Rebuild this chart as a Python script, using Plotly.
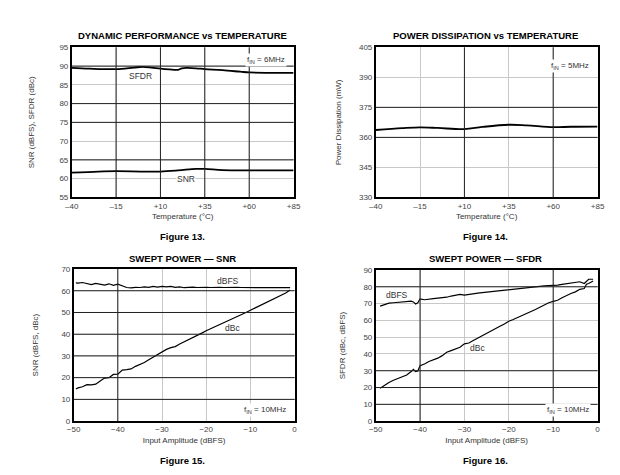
import plotly.graph_objects as go

# ---------- data ----------
temp_sfdr = [-40, -30, -15, -5, 0, 5, 10, 15, 20, 22, 25, 30, 35, 45, 55, 60, 70, 85]
sfdr_temp = [89.5, 89.3, 89.2, 89.6, 89.8, 89.6, 89.3, 89.1, 89.0, 89.4, 89.5, 89.4, 89.2, 88.9, 88.5, 88.3, 88.2, 88.2]
temp_snr = [-40, -25, -15, 0, 10, 20, 30, 35, 45, 60, 85]
snr_temp = [61.6, 61.9, 62.0, 61.9, 61.9, 62.2, 62.6, 62.6, 62.3, 62.2, 62.2]

temp_pwr = [-40, -25, -15, -5, 10, 20, 35, 45, 60, 70, 85]
pwr_temp = [363.7, 364.6, 365.0, 364.7, 364.1, 365.2, 366.3, 366.0, 365.1, 365.3, 365.4]

amp_snr = [-49.5, -49, -48, -47, -46, -45, -44, -43, -42, -41, -40, -39, -38, -37, -36, -35, -34, -33, -32,
           -31, -30, -29, -28, -27, -26, -25, -24, -23, -22, -21, -20, -19, -18, -17, -16, -15, -14, -13,
           -12, -11, -10, -9, -8, -7, -6, -5, -4, -3, -2, -1]
snr_dbfs = [63.6, 63.5, 63.8, 63.2, 62.8, 63.4, 63.0, 62.6, 63.2, 62.5, 63.0, 62.4, 61.5, 61.3, 61.6, 61.5,
            61.8, 61.6, 62.0, 61.7, 62.0, 61.8, 62.0, 61.6, 61.8, 61.4, 61.6, 61.7, 61.5, 61.7, 61.6, 61.5,
            61.7, 61.6, 61.5, 61.6, 61.5, 61.6, 61.5, 61.5, 61.6, 61.5, 61.5, 61.5, 61.5, 61.4, 61.5, 61.5, 61.4, 61.4]
snr_dbc = [14.8, 15.3, 15.8, 16.8, 16.7, 17.0, 18.5, 19.8, 20.0, 21.5, 21.6, 23.5, 23.7, 24.0, 25.2, 26.0,
           27.0, 28.2, 29.5, 30.5, 32.0, 33.0, 33.8, 34.3, 35.5, 36.5, 37.2, 38.5, 39.3, 40.5, 41.6, 42.5,
           43.4, 44.5, 45.4, 46.3, 47.0, 48.0, 49.1, 50.0, 51.0, 52.0, 53.0, 54.0, 55.0, 56.0, 57.0, 58.0, 59.0, 60.4]

amp_sfdr = [-49, -48, -47, -46, -45, -44, -43, -42, -41.5, -41, -40.5, -40, -39, -38, -37, -36, -35, -34, -33,
            -32, -31, -30, -29, -28, -27, -26, -25, -24, -23, -22, -21, -20, -19, -18, -17, -16, -15, -14, -13,
            -12, -11, -10, -9, -8, -7, -6, -5, -4, -3, -2.5, -2, -1]
sfdr_dbfs = [68.5, 69.5, 70.3, 70.5, 70.8, 70.8, 71.3, 71.5, 71.0, 69.8, 70.5, 72.8, 72.3, 72.8, 73.0, 73.3,
             73.5, 73.8, 74.5, 74.8, 75.5, 75.0, 75.5, 76.0, 76.2, 76.5, 76.8, 77.0, 77.5, 77.8, 78.2, 78.3,
             78.6, 79.0, 79.0, 79.5, 79.8, 80.0, 80.2, 80.5, 80.7, 80.8, 81.0, 81.5, 81.8, 82.0, 82.5, 83.0,
             82.0, 83.5, 84.5, 84.5]
sfdr_dbc = [19.5, 21.5, 23.0, 24.3, 25.5, 26.5, 27.5, 29.5, 30.8, 29.5, 29.8, 33.0, 34.0, 35.5, 36.5, 37.5,
            39.0, 41.0, 42.0, 42.8, 44.0, 46.0, 46.5, 48.0, 49.5, 51.0, 52.5, 54.0, 55.0, 56.5, 57.8, 59.5,
            60.5, 61.8, 63.0, 64.5, 65.3, 66.5, 68.0, 69.0, 70.5, 71.3, 72.0, 73.5, 75.0, 76.0, 77.0, 78.5,
            79.0, 81.5, 82.0, 83.5]

temp_ticks = [-40, -15, 10, 35, 60, 85]
temp_ticktext = ["\u201340", "\u201315", "+10", "+35", "+60", "+85"]
amp_ticks = [-50, -40, -30, -20, -10, 0]
amp_ticktext = ["\u221250", "\u221240", "\u221230", "\u221220", "\u221210", "0"]

# dark vs light gridlines (as in the reference)
dark_grid = {
    "13": {"x": [-15, 10, 35, 60], "y": [90, 80, 75, 65]},
    "14": {"x": [10, 60], "y": [375, 360]},
    "15": {"x": [-40], "y": [60, 50, 40, 30, 20, 10]},
    "16": {"x": [-40, -10], "y": [80, 30, 20, 10]},
}

FONT = "Liberation Sans, Arial, sans-serif"
fig = go.Figure()

line_thick = dict(color="black", width=1.8)
line_thin = dict(color="black", width=1.2)

fig.add_trace(go.Scatter(x=temp_sfdr, y=sfdr_temp, mode="lines", line=dict(shape="spline", **line_thick), xaxis="x", yaxis="y"))
fig.add_trace(go.Scatter(x=temp_snr, y=snr_temp, mode="lines", line=dict(shape="spline", **line_thick), xaxis="x", yaxis="y"))
fig.add_trace(go.Scatter(x=temp_pwr, y=pwr_temp, mode="lines", line=dict(shape="spline", **line_thick), xaxis="x2", yaxis="y2"))
fig.add_trace(go.Scatter(x=amp_snr, y=snr_dbfs, mode="lines", line=line_thin, xaxis="x3", yaxis="y3"))
fig.add_trace(go.Scatter(x=amp_snr, y=snr_dbc, mode="lines", line=line_thin, xaxis="x3", yaxis="y3"))
fig.add_trace(go.Scatter(x=amp_sfdr, y=sfdr_dbfs, mode="lines", line=line_thin, xaxis="x4", yaxis="y4"))
fig.add_trace(go.Scatter(x=amp_sfdr, y=sfdr_dbc, mode="lines", line=line_thin, xaxis="x4", yaxis="y4"))

W, H = 620, 475
def px_x(a, b):
    return [a / W, b / W]
def px_y(top, bot):
    return [1 - bot / H, 1 - top / H]

tickfont = dict(family=FONT, size=8, color="#444")
titlefont = dict(family=FONT, size=8, color="#333")

def xax(domain, anchor, rng, tickvals, ticktext, title):
    return dict(domain=domain, anchor=anchor, range=rng, tickmode="array", tickvals=tickvals,
                ticktext=ticktext, showgrid=True, gridcolor="#c8c8c8", gridwidth=1,
                showline=True, linecolor="black", linewidth=1.5, mirror=True, ticks="",
                zeroline=False, tickfont=tickfont, title=dict(text=title, font=titlefont, standoff=4))

def yax(domain, anchor, rng, dtick, title, standoff):
    return dict(domain=domain, anchor=anchor, range=rng, dtick=dtick, tick0=rng[0],
                showgrid=True, gridcolor="#c8c8c8", gridwidth=1,
                showline=True, linecolor="black", linewidth=1.5, mirror=True, ticks="",
                zeroline=False, tickfont=tickfont, title=dict(text=title, font=titlefont, standoff=standoff))

fig.update_layout(
    width=W, height=H, margin=dict(l=0, r=0, t=0, b=0),
    paper_bgcolor="white", plot_bgcolor="white", showlegend=False,
    font=dict(family=FONT),
    xaxis=xax(px_x(58, 285), "y", [-40, 85], temp_ticks, temp_ticktext, "Temperature (\u00b0C)"),
    yaxis=yax(px_y(36, 189), "x", [55, 95], 5, "SNR (dBFS), SFDR (dBc)", 24),
    xaxis2=xax(px_x(369, 596), "y2", [-40, 85], temp_ticks, temp_ticktext, "Temperature (\u00b0C)"),
    yaxis2=yax(px_y(36, 189), "x2", [330, 405], 15, "Power Dissipation (mW)", 16),
    xaxis3=xax(px_x(60, 286), "y3", [-50, 0], amp_ticks, amp_ticktext, "Input Amplitude (dBFS)"),
    yaxis3=yax(px_y(262, 417), "x3", [0, 70], 10, "SNR (dBFS, dBc)", 22),
    xaxis4=xax(px_x(369, 596), "y4", [-50, 0], amp_ticks, amp_ticktext, "Input Amplitude (dBFS)"),
    yaxis4=yax(px_y(263, 417), "x4", [0, 90], 10, "SFDR (dBc, dBFS)", 17),
)

# dark gridlines drawn over the light grid
shapes = []
for key, sfx in (("13", ""), ("14", "2"), ("15", "3"), ("16", "4")):
    for xv in dark_grid[key]["x"]:
        shapes.append(dict(type="line", xref="x" + sfx, yref="y" + sfx + " domain", x0=xv, x1=xv, y0=0, y1=1,
                           line=dict(color="#222", width=1), layer="above"))
    for yv in dark_grid[key]["y"]:
        shapes.append(dict(type="line", xref="x" + sfx + " domain", yref="y" + sfx, x0=0, x1=1, y0=yv, y1=yv,
                           line=dict(color="#222", width=1), layer="above"))
fig.update_layout(shapes=shapes)

ann = []
def title(text, xc, y):
    ann.append(dict(text=text, x=xc / W, y=1 - y / H, xref="paper", yref="paper", showarrow=False,
                    font=dict(family=FONT, size=9.5, color="black", weight="bold"),
                    xanchor="center", yanchor="middle"))

title("DYNAMIC PERFORMANCE vs TEMPERATURE", 171, 24)
title("POWER DISSIPATION vs TEMPERATURE", 481, 24)
title("SWEPT POWER \u2014 SNR", 171, 251)
title("SWEPT POWER \u2014 SFDR", 481, 251)
title("Figure 13.", 171, 229)
title("Figure 14.", 481, 229)
title("Figure 15.", 171, 457)
title("Figure 16.", 481, 457)

lab = dict(family=FONT, size=8.5, color="#333")
def dlabel(text, x, y, sfx, bg=None):
    d = dict(text=text, x=x, y=y, xref="x" + sfx, yref="y" + sfx, showarrow=False, font=lab,
             xanchor="center", yanchor="middle", borderpad=0)
    if bg:
        d["bgcolor"] = bg
    ann.append(d)

dlabel("SFDR", -1.5, 87.4, "")
dlabel("SNR", 24.5, 60.0, "", bg="white")
dlabel("dBFS", -15, 64.6, "3")
dlabel("dBc", -14, 42.8, "3")
dlabel("dBFS", -45.3, 75.2, "4")
dlabel("dBc", -27, 43.6, "4")

def fin(text, sfx, yv, yanchor):
    ann.append(dict(text=text, x=0.97, y=yv, xref="x" + sfx + " domain", yref="y" + sfx + " domain",
                    showarrow=False, font=dict(family=FONT, size=8, color="#333"),
                    xanchor="right", yanchor=yanchor, bgcolor="white", borderpad=1))

fin("f<sub>IN</sub> = 6MHz", "", 0.96, "top")
fin("f<sub>IN</sub> = 5MHz", "2", 0.92, "top")
fin("f<sub>IN</sub> = 10MHz", "3", 0.03, "bottom")
fin("f<sub>IN</sub> = 10MHz", "4", 0.03, "bottom")

fig.update_layout(annotations=ann)
fig.write_html("out.html")
